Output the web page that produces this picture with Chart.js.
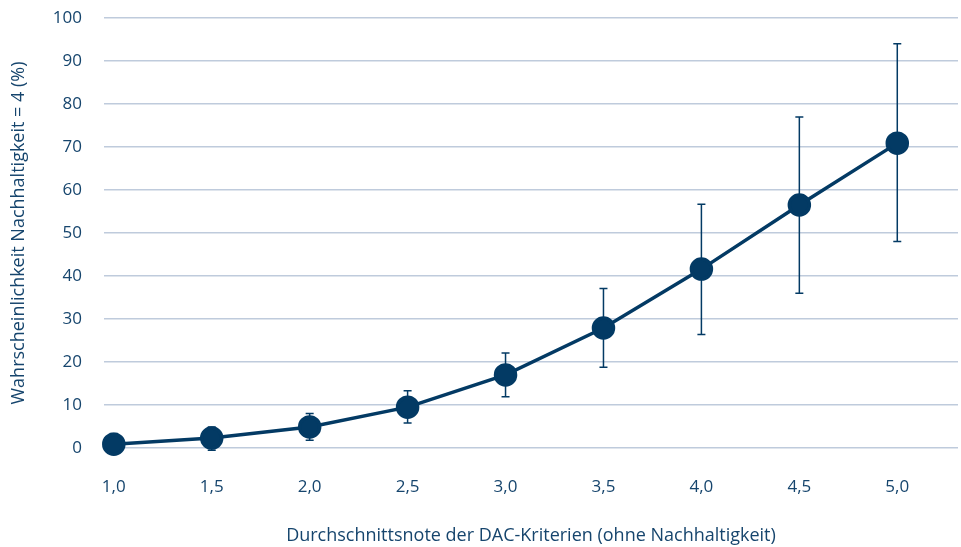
<!DOCTYPE html>
<html>
<head>
<meta charset="utf-8">
<script src="https://cdn.jsdelivr.net/npm/chart.js@4/dist/chart.umd.min.js"></script>
<style>
  html, body { margin: 0; padding: 0; background: #fff; }
  #wrap { width: 961px; height: 547px; position: relative; }
</style>
</head>
<body>
<div id="wrap"><canvas id="chart"></canvas></div>
<script>
// Werte
const notes = [1.0, 1.5, 2.0, 2.5, 3.0, 3.5, 4.0, 4.5, 5.0];
const prob = [0.9, 2.3, 4.9, 9.5, 17.0, 27.9, 41.6, 56.5, 70.9];
const lower = [-1.3, -0.5, 1.8, 5.8, 11.9, 18.8, 26.4, 36.0, 48.0];
const upper = [3.4, 4.9, 8.0, 13.3, 22.1, 37.1, 56.7, 77.0, 94.0];
const yTicks = [0, 10, 20, 30, 40, 50, 60, 70, 80, 90, 100];

const navy = '#033a64';
const textColor = '#16456d';
const gridColor = '#bfcbdc';
const font = "'Open Sans', 'Noto Sans', sans-serif";

// Fehlerbalken ueber die Achsen der Bibliothek zeichnen
const errorBars = {
  id: 'errorBars',
  beforeDatasetsDraw(chart) {
    const ctx = chart.ctx;
    const xs = chart.scales.x, ys = chart.scales.y;
    ctx.save();
    ctx.strokeStyle = navy;
    ctx.lineWidth = 1.5;
    notes.forEach((n, i) => {
      const x = xs.getPixelForValue(n);
      const yl = ys.getPixelForValue(lower[i]);
      const yu = ys.getPixelForValue(upper[i]);
      ctx.beginPath();
      ctx.moveTo(x, yl); ctx.lineTo(x, yu);
      ctx.moveTo(x - 4, yl); ctx.lineTo(x + 4, yl);
      ctx.moveTo(x - 4, yu); ctx.lineTo(x + 4, yu);
      ctx.stroke();
    });
    ctx.restore();
  }
};

new Chart(document.getElementById('chart'), {
  type: 'line',
  data: {
    datasets: [{
      data: notes.map((n, i) => ({ x: n, y: prob[i] })),
      borderColor: navy,
      backgroundColor: navy,
      borderWidth: 3.5,
      pointRadius: 10,
      pointHoverRadius: 10,
      tension: 0,
      clip: false
    }]
  },
  options: {
    responsive: true,
    maintainAspectRatio: false,
    animation: false,
    layout: { autoPadding: false, padding: { top: 18, right: 3 } },
    plugins: { legend: { display: false }, tooltip: { enabled: false } },
    scales: {
      x: {
        type: 'linear',
        min: 0.95,
        max: 5.31,
        afterBuildTicks: s => { s.ticks = notes.map(v => ({ value: v })); },
        afterFit: s => { s.height = 99; s.paddingLeft = 0; s.paddingRight = 0; },
        grid: { display: false },
        border: { display: false },
        ticks: {
          color: textColor,
          padding: 21,
          font: { family: font, size: 17 },
          callback: v => v.toFixed(1).replace('.', ',')
        },
        title: {
          display: true,
          text: 'Durchschnittsnote der DAC-Kriterien (ohne Nachhaltigkeit)',
          color: textColor,
          font: { family: font, size: 18 },
          padding: { top: 4, bottom: 0 }
        }
      },
      y: {
        min: 0,
        max: 100,
        afterBuildTicks: s => { s.ticks = yTicks.map(v => ({ value: v })); },
        afterFit: s => { s.width = 104; s.paddingTop = 0; s.paddingBottom = 0; },
        grid: { color: gridColor, lineWidth: 1.5, drawTicks: false },
        border: { display: false },
        ticks: {
          color: textColor,
          padding: 22,
          font: { family: font, size: 17 }
        },
        title: {
          display: true,
          text: 'Wahrscheinlichkeit Nachhaltigkeit = 4 (%)',
          color: textColor,
          font: { family: font, size: 18 },
          padding: { top: 8 }
        }
      }
    }
  },
  plugins: [errorBars]
});
</script>
</body>
</html>
